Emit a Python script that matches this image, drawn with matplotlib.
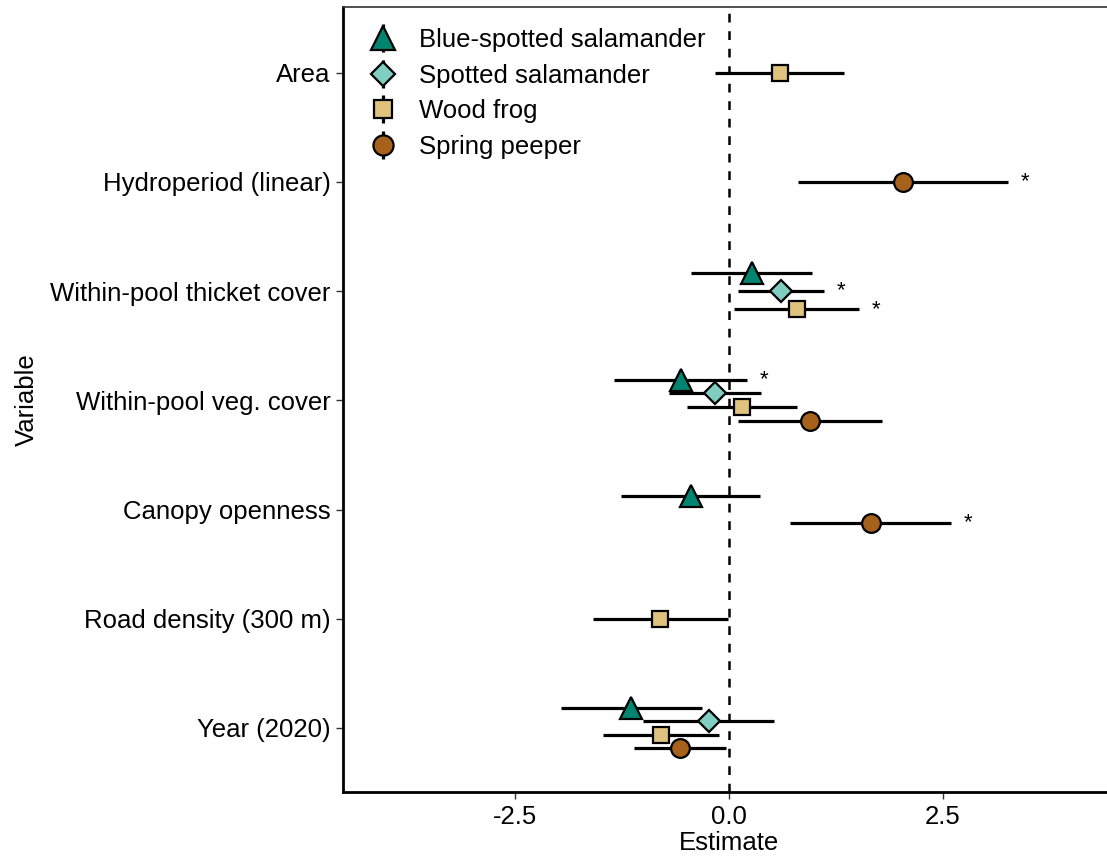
import matplotlib.pyplot as plt
import numpy as np
from matplotlib.lines import Line2D
from matplotlib.legend_handler import HandlerTuple

plt.rcParams['font.family'] = ['Liberation Sans', 'DejaVu Sans']

nan = np.nan
variables = ['Area', 'Hydroperiod (linear)', 'Within-pool thicket cover',
             'Within-pool veg. cover', 'Canopy openness',
             'Road density (300 m)', 'Year (2020)']
species = ['Blue-spotted salamander', 'Spotted salamander', 'Wood frog', 'Spring peeper']

# estimates and 95% intervals, one list per species (nan = not in model)
bss_est = [nan, nan, 0.27, -0.56, -0.44, nan, -1.14]
bss_lo = [nan, nan, -0.44, -1.34, -1.26, nan, -1.96]
bss_hi = [nan, nan, 0.97, 0.21, 0.36, nan, -0.32]
bss_sig = [False, False, False, True, False, False, False]

ss_est = [nan, nan, 0.61, -0.16, nan, nan, -0.23]
ss_lo = [nan, nan, 0.11, -0.70, nan, nan, -1.00]
ss_hi = [nan, nan, 1.11, 0.37, nan, nan, 0.53]
ss_sig = [False, False, True, False, False, False, False]

wf_est = [0.60, nan, 0.79, 0.15, nan, -0.81, -0.79]
wf_lo = [-0.16, nan, 0.06, -0.49, nan, -1.59, -1.47]
wf_hi = [1.34, nan, 1.52, 0.79, nan, -0.01, -0.12]
wf_sig = [False, False, True, False, False, False, False]

sp_est = [nan, 2.03, nan, 0.95, 1.66, nan, -0.57]
sp_lo = [nan, 0.81, nan, 0.11, 0.71, nan, -1.11]
sp_hi = [nan, 3.26, nan, 1.79, 2.59, nan, -0.04]
sp_sig = [False, True, False, False, True, False, False]

est = [bss_est, ss_est, wf_est, sp_est]
lo = [bss_lo, ss_lo, wf_lo, sp_lo]
hi = [bss_hi, ss_hi, wf_hi, sp_hi]
sig = [bss_sig, ss_sig, wf_sig, sp_sig]

colors = ['#018571', '#80cdc1', '#dfc27d', '#a6611a']
markers = ['^', 'D', 's', 'o']
msizes = [16, 11.5, 12, 13.5]

fig = plt.figure(figsize=(11.07, 8.59), dpi=100)
ax = fig.add_axes([343/1107, 67/859, 772/1107, 785/859])

nvar = len(variables)
ypos = np.arange(nvar)[::-1]  # Area on top
dodge = 0.5

for j in range(nvar):
    present = [i for i in range(4) if not np.isnan(est[i][j])]
    n = len(present)
    for k, i in enumerate(present):
        off = dodge / 2 - dodge / (2 * n) - k * dodge / n
        y = ypos[j] + off
        e = est[i][j]
        ax.plot([lo[i][j], hi[i][j]], [y, y], color='black', lw=2.3, zorder=2,
                solid_capstyle='butt')
        ax.plot([e], [y], marker=markers[i], ms=msizes[i], color=colors[i],
                mec='black', mew=1.6, ls='', zorder=3)
        if sig[i][j]:
            ax.text(hi[i][j] + 0.2, y, '*', fontsize=16, ha='center', va='center')

ax.axvline(0, color='black', ls=(0, (3.5, 3.5)), lw=1.8, zorder=1)

ax.set_xlim(-4.51, 4.51)
ax.set_ylim(-0.586, 6.6)
ax.set_xticks([-2.5, 0.0, 2.5])
ax.set_xticklabels(['-2.5', '0.0', '2.5'])
ax.set_yticks(ypos)
ax.set_yticklabels(variables)
ax.tick_params(labelsize=18.5, length=5, width=1.0, colors='#333333', labelcolor='black', pad=4)

for s in ['left', 'bottom']:
    ax.spines[s].set_linewidth(2.0)
    ax.spines[s].set_color('black')
ax.spines['top'].set_linewidth(1.2)
ax.spines['top'].set_color('#333333')
ax.spines['right'].set_visible(False)

ax.set_xlabel('Estimate', fontsize=18.5, labelpad=2)
ax.set_ylabel('Variable', fontsize=18.5, labelpad=8)

handles = []
for i in range(4):
    vline = Line2D([], [], marker='|', ms=20, mew=2.3, color='black', ls='')
    pt = Line2D([], [], marker=markers[i], ms=msizes[i] + 1, color=colors[i],
                mec='black', mew=1.6, ls='')
    handles.append((vline, pt))
ax.legend(handles, species, handler_map={tuple: HandlerTuple(ndivide=1)},
          loc='upper left', bbox_to_anchor=(352/1107, 1 - 18/859),
          bbox_transform=fig.transFigure, frameon=False, fontsize=18.5,
          handlelength=1.6, handletextpad=0.6, labelspacing=0.45, borderaxespad=0)

fig.savefig('out.png', dpi=100)
